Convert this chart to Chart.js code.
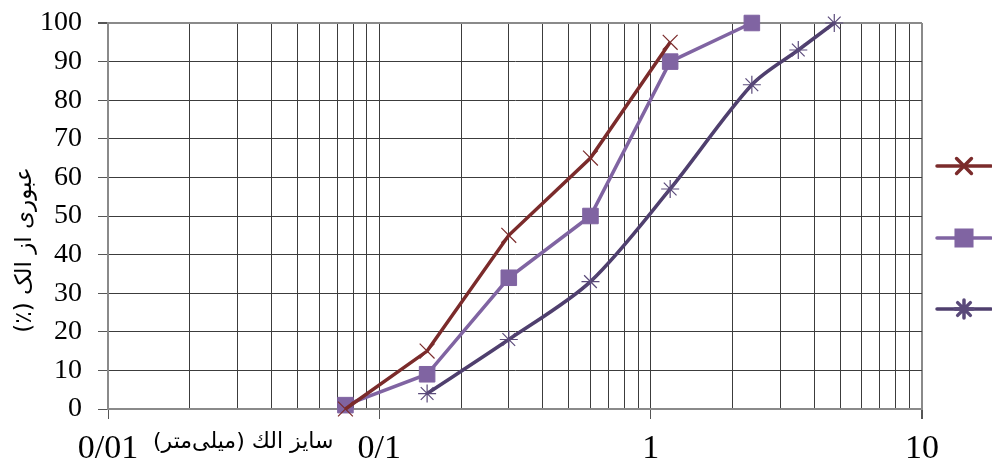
<!DOCTYPE html>
<html>
<head>
<meta charset="utf-8">
<script src="https://cdn.jsdelivr.net/npm/chart.js@4/dist/chart.umd.min.js"></script>
<style>
  html, body { margin: 0; padding: 0; background: #fff; }
  #wrap { width: 992px; height: 466px; }
</style>
</head>
<body>
<div id="wrap"><canvas id="gradChart" width="992" height="466"></canvas></div>
<script>
// sieve sizes (mm) and percent passing for each sample
const sizesA = [0.075, 0.15, 0.3, 0.6, 1.18];
const passA = [0, 15, 45, 65, 95];
const sizesB = [0.075, 0.15, 0.3, 0.6, 1.18, 2.36];
const passB = [1, 9, 34, 50, 90, 100];
const sizesC = [0.15, 0.3, 0.6, 1.18, 2.36, 3.5, 4.75];
const passC = [4, 18, 33, 57, 84, 93, 100];

const majorTicks = [0.01, 0.1, 1, 10];
const tickLabels = ['0/01', '0/1', '1', '10'];
const xTitle = 'سایز الك (میلی‌متر)';
const yTitle = 'عبوری از الک (٪)';

const serif = "'Liberation Serif', 'Times New Roman', serif";
const arabic = "'DejaVu Sans', sans-serif";

const toPoints = (xs, ys) => xs.map((x, i) => ({ x: x, y: ys[i] }));

const isMajor = v => majorTicks.some(m => Math.abs(m - v) / m < 1e-6);

// draws the axis titles and the marker-only legend on the right
const extrasPlugin = {
    id: 'extras',
    afterDraw(chart) {
        const ctx = chart.ctx;
        const area = chart.chartArea;
        const xs = chart.scales.x;

        ctx.save();
        ctx.fillStyle = '#000';
        ctx.direction = 'rtl';
        ctx.font = '22px ' + arabic;
        ctx.textAlign = 'center';
        ctx.textBaseline = 'middle';
        ctx.fillText(xTitle, xs.getPixelForValue(0.0315), 442);

        ctx.translate(25, (area.top + area.bottom) / 2 + 34);
        ctx.rotate(-Math.PI / 2);
        ctx.font = '23px ' + arabic;
        ctx.fillText(yTitle, 0, 0);
        ctx.restore();

        // legend
        const rows = [166, 238, 309];
        chart.data.datasets.forEach((ds, i) => {
            const y = rows[i];
            const x0 = area.right + 15;
            const x1 = area.right + 69;
            ctx.save();
            ctx.strokeStyle = ds.borderColor;
            ctx.lineWidth = 3.5;
            ctx.lineCap = 'round';
            ctx.beginPath();
            ctx.moveTo(x0, y);
            ctx.lineTo(x1, y);
            ctx.stroke();
            ctx.fillStyle = ds.pointBackgroundColor;
            ctx.strokeStyle = ds.pointBorderColor;
            Chart.helpers.drawPoint(ctx, {
                pointStyle: ds.pointStyle,
                radius: ds.pointRadius,
                borderWidth: ds.pointBorderWidth,
                rotation: 0
            }, (x0 + x1) / 2, y);
            ctx.restore();
        });
    }
};

const ctx = document.getElementById('gradChart').getContext('2d');
const gradChart = new Chart(ctx, {
    type: 'line',
    data: {
        datasets: [
            {
                label: 'A',
                data: toPoints(sizesA, passA),
                borderColor: '#7b2b2b',
                borderWidth: 3.5,
                pointStyle: 'crossRot',
                pointRadius: 10.5,
                pointBorderWidth: 1.2,
                pointBackgroundColor: '#7b2b2b',
                pointBorderColor: '#7b2b2b',
                tension: 0,
                clip: false
            },
            {
                label: 'B',
                data: toPoints(sizesB, passB),
                borderColor: '#8064a2',
                borderWidth: 3.5,
                pointStyle: 'rect',
                pointRadius: 11,
                pointBorderWidth: 1,
                pointBackgroundColor: '#8064a2',
                pointBorderColor: '#8064a2',
                tension: 0,
                clip: false
            },
            {
                label: 'C',
                data: toPoints(sizesC, passC),
                borderColor: '#4f3f6e',
                borderWidth: 3.5,
                pointStyle: 'star',
                pointRadius: 9,
                pointBorderWidth: 1.2,
                pointBackgroundColor: '#5a4a7a',
                pointBorderColor: '#5a4a7a',
                tension: 0.3,
                clip: false
            }
        ]
    },
    options: {
        responsive: false,
        animation: false,
        layout: { autoPadding: false, padding: { top: 23, right: 70, left: 0, bottom: 0 } },
        plugins: {
            legend: { display: false },
            tooltip: { enabled: false }
        },
        scales: {
            x: {
                type: 'logarithmic',
                min: 0.01,
                max: 10,
                afterFit: scale => {
                    scale.height = 57;
                    scale.paddingLeft = 0;
                    scale.paddingRight = 0;
                },
                afterBuildTicks: scale => {
                    const ticks = [];
                    [0.01, 0.1, 1].forEach(d => {
                        for (let m = 1; m <= 9; m++) ticks.push({ value: d * m });
                    });
                    ticks.push({ value: 10 });
                    scale.ticks = ticks;
                },
                ticks: {
                    autoSkip: false,
                    maxRotation: 0,
                    padding: 10,
                    color: '#000',
                    font: { family: serif, size: 34 },
                    callback: value => {
                        const i = majorTicks.findIndex(m => Math.abs(m - value) / m < 1e-6);
                        return i >= 0 ? tickLabels[i] : '';
                    }
                },
                grid: {
                    color: c => (c.tick && Math.abs(c.tick.value - 10) < 1e-6) ? '#8a8a8a' : '#3c3c3c',
                    lineWidth: c => (c.tick && Math.abs(c.tick.value - 10) < 1e-6) ? 2 : 1,
                    tickLength: 10,
                    tickColor: c => (c.tick && isMajor(c.tick.value)) ? '#555' : 'rgba(0,0,0,0)'
                },
                border: { color: '#8a8a8a', width: 2 }
            },
            y: {
                min: 0,
                max: 100,
                afterFit: scale => {
                    scale.width = 108;
                    scale.paddingTop = 0;
                    scale.paddingBottom = 0;
                },
                ticks: {
                    stepSize: 10,
                    padding: 16,
                    color: '#000',
                    font: { family: serif, size: 28 }
                },
                grid: {
                    color: c => (c.tick && c.tick.value === 100) ? '#8a8a8a' : '#3c3c3c',
                    lineWidth: c => (c.tick && c.tick.value === 100) ? 2 : 1,
                    tickLength: 10,
                    tickColor: '#555'
                },
                border: { color: '#8a8a8a', width: 2 }
            }
        }
    },
    plugins: [extrasPlugin]
});
</script>
</body>
</html>
